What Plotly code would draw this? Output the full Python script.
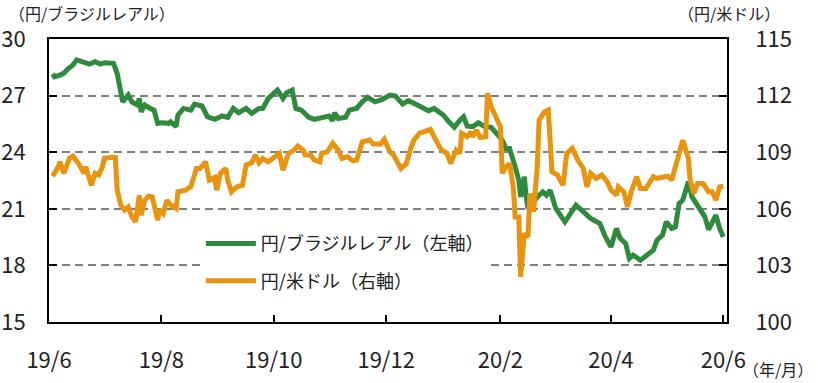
import plotly.graph_objects as go

# ---------------- data ----------------
brl_dates = [
    "2019-06-03", "2019-06-04", "2019-06-07", "2019-06-09", "2019-06-11", "2019-06-14", "2019-06-16",
    "2019-06-20", "2019-06-23", "2019-06-26", "2019-06-29", "2019-07-01", "2019-07-06", "2019-07-08",
    "2019-07-10", "2019-07-11", "2019-07-14", "2019-07-16", "2019-07-19", "2019-07-20", "2019-07-21",
    "2019-07-23", "2019-07-26", "2019-07-28", "2019-07-30", "2019-08-01", "2019-08-05", "2019-08-06",
    "2019-08-09", "2019-08-10", "2019-08-13", "2019-08-17", "2019-08-19", "2019-08-23", "2019-08-26",
    "2019-08-30", "2019-09-03", "2019-09-06", "2019-09-09", "2019-09-12", "2019-09-16", "2019-09-19",
    "2019-09-23", "2019-09-25", "2019-09-28", "2019-10-01", "2019-10-03", "2019-10-06", "2019-10-08",
    "2019-10-11", "2019-10-13", "2019-10-16", "2019-10-20", "2019-10-23", "2019-10-27", "2019-10-31",
    "2019-11-02", "2019-11-03", "2019-11-05", "2019-11-09", "2019-11-11", "2019-11-15", "2019-11-18",
    "2019-11-21", "2019-11-25", "2019-11-29", "2019-12-03", "2019-12-06", "2019-12-10", "2019-12-13",
    "2019-12-16", "2019-12-20", "2019-12-24", "2019-12-27", "2019-12-30", "2020-01-01", "2020-01-04",
    "2020-01-07", "2020-01-10", "2020-01-12", "2020-01-14", "2020-01-17", "2020-01-20", "2020-01-23",
    "2020-01-27", "2020-01-30", "2020-02-02", "2020-02-04", "2020-02-06", "2020-02-09", "2020-02-11",
    "2020-02-12", "2020-02-14", "2020-02-15", "2020-02-16", "2020-02-22", "2020-02-24", "2020-02-26",
    "2020-02-28", "2020-03-02", "2020-03-05", "2020-03-07", "2020-03-10", "2020-03-13", "2020-03-15",
    "2020-03-18", "2020-03-21", "2020-03-26", "2020-03-29", "2020-04-01", "2020-04-04", "2020-04-06",
    "2020-04-09", "2020-04-11", "2020-04-13", "2020-04-17", "2020-04-20", "2020-04-24", "2020-04-26",
    "2020-04-29", "2020-05-01", "2020-05-04", "2020-05-06", "2020-05-08", "2020-05-10", "2020-05-13",
    "2020-05-15", "2020-05-18", "2020-05-22", "2020-05-24", "2020-05-26", "2020-05-28", "2020-05-30",
    "2020-06-01",
]
brl_values = [
    28.15, 28.00, 28.09, 28.18, 28.39, 28.62, 28.89,
    28.74, 28.67, 28.80, 28.67, 28.74, 28.71, 28.18,
    27.29, 26.67, 27.03, 26.67, 26.50, 26.85, 26.14,
    26.50, 26.32, 26.23, 25.53, 25.56, 25.53, 25.61,
    25.35, 25.97, 26.32, 26.23, 26.55, 26.45, 25.88,
    25.74, 25.92, 25.85, 26.32, 26.09, 26.32, 26.06,
    26.32, 26.32, 26.85, 27.12, 27.29, 26.85, 27.15,
    27.29, 26.32, 26.23, 25.85, 25.74, 25.85, 25.92,
    25.67, 26.09, 25.79, 25.85, 26.23, 26.32, 26.67,
    26.91, 26.67, 26.80, 27.03, 26.98, 26.55, 26.73,
    26.59, 26.41, 26.20, 26.32, 26.06, 25.97, 25.61,
    25.32, 25.70, 25.88, 25.38, 25.35, 25.56, 25.38,
    25.32, 25.00, 24.64, 24.20, 24.20, 23.23, 22.52,
    21.63, 22.70, 21.63, 21.03, 21.72, 21.90, 21.72,
    21.99, 21.03, 20.57, 20.31, 20.75, 21.19, 21.02,
    20.75, 20.49, 20.22, 19.51, 18.98, 19.96, 19.43,
    19.16, 18.37, 18.54, 18.28, 18.49, 18.81, 19.34,
    19.60, 20.31, 19.96, 20.04, 21.28, 21.46, 22.43,
    21.63, 21.19, 20.57, 19.90, 20.22, 20.66, 19.96,
    19.51,
]

usd_dates = [
    "2019-06-03", "2019-06-04", "2019-06-06", "2019-06-07", "2019-06-09", "2019-06-11", "2019-06-12",
    "2019-06-14", "2019-06-17", "2019-06-20", "2019-06-21", "2019-06-22", "2019-06-24", "2019-06-26",
    "2019-06-28", "2019-06-30", "2019-07-01", "2019-07-04", "2019-07-07", "2019-07-08", "2019-07-10",
    "2019-07-12", "2019-07-14", "2019-07-16", "2019-07-18", "2019-07-20", "2019-07-21", "2019-07-23",
    "2019-07-25", "2019-07-27", "2019-07-30", "2019-07-31", "2019-08-02", "2019-08-04", "2019-08-06",
    "2019-08-09", "2019-08-10", "2019-08-14", "2019-08-17", "2019-08-20", "2019-08-22", "2019-08-25",
    "2019-08-27", "2019-08-30", "2019-08-31", "2019-09-02", "2019-09-05", "2019-09-06", "2019-09-08",
    "2019-09-11", "2019-09-14", "2019-09-16", "2019-09-19", "2019-09-21", "2019-09-23", "2019-09-25",
    "2019-09-28", "2019-10-02", "2019-10-04", "2019-10-06", "2019-10-09", "2019-10-12", "2019-10-14",
    "2019-10-17", "2019-10-18", "2019-10-21", "2019-10-23", "2019-10-26", "2019-10-27", "2019-10-30",
    "2019-11-02", "2019-11-05", "2019-11-07", "2019-11-10", "2019-11-13", "2019-11-15", "2019-11-18",
    "2019-11-22", "2019-11-24", "2019-11-28", "2019-11-30", "2019-12-03", "2019-12-05", "2019-12-09",
    "2019-12-12", "2019-12-14", "2019-12-16", "2019-12-19", "2019-12-22", "2019-12-25", "2019-12-28",
    "2019-12-31", "2020-01-03", "2020-01-05", "2020-01-08", "2020-01-10", "2020-01-11", "2020-01-14",
    "2020-01-16", "2020-01-17", "2020-01-19", "2020-01-21", "2020-01-24", "2020-01-25", "2020-01-27",
    "2020-01-30", "2020-02-01", "2020-02-02", "2020-02-04", "2020-02-06", "2020-02-08", "2020-02-09",
    "2020-02-11", "2020-02-12", "2020-02-14", "2020-02-16", "2020-02-17", "2020-02-19", "2020-02-21",
    "2020-02-22", "2020-02-25", "2020-02-27", "2020-02-29", "2020-03-03", "2020-03-06", "2020-03-08",
    "2020-03-11", "2020-03-14", "2020-03-17", "2020-03-19", "2020-03-21", "2020-03-24", "2020-03-27",
    "2020-03-30", "2020-04-01", "2020-04-04", "2020-04-05", "2020-04-08", "2020-04-10", "2020-04-12",
    "2020-04-15", "2020-04-17", "2020-04-20", "2020-04-24", "2020-04-26", "2020-04-30", "2020-05-02",
    "2020-05-04", "2020-05-07", "2020-05-10", "2020-05-13", "2020-05-14", "2020-05-16", "2020-05-18",
    "2020-05-21", "2020-05-24", "2020-05-26", "2020-05-28", "2020-05-30", "2020-06-01",
]
usd_values = [
    107.73, 107.88, 108.23, 108.49, 107.88, 108.40, 108.67,
    108.79, 108.40, 107.88, 108.23, 107.88, 107.25, 107.88,
    107.79, 108.23, 108.67, 108.72, 108.72, 106.99, 106.19,
    105.93, 106.10, 105.57, 105.31, 106.72, 105.66, 106.46,
    106.67, 106.63, 105.40, 105.93, 105.75, 106.46, 106.19,
    106.02, 106.90, 106.99, 107.17, 108.14, 108.14, 108.49,
    107.52, 107.66, 106.99, 107.88, 108.14, 107.52, 106.90,
    107.17, 107.25, 108.32, 108.44, 108.85, 108.44, 108.67,
    108.49, 108.79, 108.94, 108.05, 108.94, 109.11, 109.32,
    109.11, 108.85, 108.85, 108.58, 108.49, 108.94, 109.02,
    109.47, 109.11, 108.67, 108.76, 108.54, 108.58, 109.55,
    109.64, 109.43, 109.43, 109.68, 109.02, 108.85, 108.14,
    108.40, 109.11, 109.64, 110.00, 110.08, 110.21, 109.64,
    109.11, 108.94, 108.40, 109.11, 108.94, 110.00, 109.82,
    110.08, 109.82, 110.17, 109.79, 109.82, 112.12, 111.41,
    110.70, 110.35, 107.88, 108.23, 108.40, 107.16, 105.57,
    105.57, 102.39, 104.69, 104.51, 106.81, 105.84, 108.23,
    110.70, 111.14, 111.23, 107.96, 107.79, 107.25, 108.94,
    109.20, 108.58, 108.14, 107.16, 107.88, 107.61, 107.79,
    107.43, 106.99, 106.72, 107.16, 106.90, 106.10, 106.90,
    107.70, 107.08, 107.08, 107.70, 107.61, 107.70, 107.73,
    107.52, 108.67, 109.64, 108.67, 107.52, 106.81, 107.34,
    107.34, 106.90, 106.90, 106.46, 107.16, 107.20,
]

tick_dates = ["2019-06-01", "2019-08-01", "2019-10-01", "2019-12-01",
              "2020-02-01", "2020-04-01", "2020-06-01"]
tick_labels = ["19/6", "19/8", "19/10", "19/12", "20/2", "20/4", "20/6"]
left_ticks = [15, 18, 21, 24, 27, 30]
right_ticks = [100, 103, 106, 109, 112, 115]

GREEN = "#2e8b3e"
ORANGE = "#e8940f"
FONT = "Noto Sans CJK JP"

fig = go.Figure()
fig.add_trace(go.Scatter(
    x=brl_dates, y=brl_values, mode="lines", name="円/ブラジルレアル（左軸）",
    line=dict(color=GREEN, width=5), legendgroup="a", yaxis="y",
))
fig.add_trace(go.Scatter(
    x=usd_dates, y=usd_values, mode="lines", name="円/米ドル（右軸）",
    line=dict(color=ORANGE, width=5), legendgroup="b", yaxis="y2",
))

fig.update_layout(
    width=818, height=383,
    margin=dict(l=49, r=91, t=39, b=61, autoexpand=False),
    paper_bgcolor="white", plot_bgcolor="white",
    font=dict(family=FONT, size=22, color="#222222"),
    showlegend=True,
    legend=dict(
        x=0.224, y=0.342, xanchor="left", yanchor="top",
        bgcolor="white", borderwidth=0,
        font=dict(size=18, color="#222222"),
        itemwidth=50, tracegroupgap=11,
    ),
    xaxis=dict(
        type="date", range=["2019-06-01", "2020-06-03"],
        tickmode="array", tickvals=tick_dates, ticktext=tick_labels,
        ticks="inside", ticklen=7, tickwidth=2, tickcolor="black",
        showline=True, linecolor="black", linewidth=2, mirror=True,
        showgrid=False, zeroline=False, automargin=False,
        ticklabelstandoff=18,
    ),
    yaxis=dict(
        range=[15, 30], tickvals=left_ticks,
        ticks="inside", ticklen=8, tickwidth=2, tickcolor="black",
        showline=True, linecolor="black", linewidth=2, mirror=True,
        showgrid=True, gridcolor="#808080", gridwidth=1.5, griddash="8px,5px",
        zeroline=False, automargin=False, ticklabelstandoff=17,
    ),
    yaxis2=dict(
        range=[100, 115], tickvals=right_ticks, overlaying="y", side="right",
        ticks="inside", ticklen=8, tickwidth=2, tickcolor="black",
        showline=True, linecolor="black", linewidth=2,
        showgrid=False, zeroline=False, automargin=False, ticklabelstandoff=22,
    ),
    annotations=[
        dict(text="（円/ブラジルレアル）", xref="paper", yref="paper", x=-0.062, y=1.092,
             xanchor="left", yanchor="middle", showarrow=False, font=dict(size=16)),
        dict(text="（円/米ドル）", xref="paper", yref="paper", x=1.081, y=1.092,
             xanchor="right", yanchor="middle", showarrow=False, font=dict(size=16)),
        dict(text="（年/月）", xref="paper", yref="paper", x=1.130, y=-0.166,
             xanchor="right", yanchor="middle", showarrow=False, font=dict(size=16)),
    ],
)

fig.write_html("out.html", config={"displayModeBar": False},
               post_script="document.body.style.margin='0';")
